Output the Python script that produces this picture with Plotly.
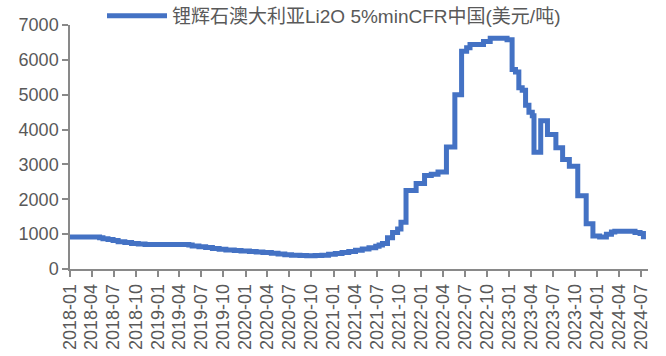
import plotly.graph_objects as go

# Weekly change points of the spodumene price series (USD/t)
dates = [
    "2018-01-01", "2018-05-04", "2018-05-18", "2018-06-08", "2018-06-29", "2018-07-20",
    "2018-08-17", "2018-09-14", "2018-10-12", "2018-11-09", "2019-01-11", "2019-05-10",
    "2019-05-24", "2019-06-21", "2019-07-19", "2019-08-16", "2019-09-13", "2019-10-11",
    "2019-11-15", "2019-12-13", "2020-01-17", "2020-02-14", "2020-03-13", "2020-04-17",
    "2020-05-15", "2020-06-12", "2020-07-10", "2020-08-14", "2020-09-11", "2020-10-16",
    "2020-11-13", "2020-12-11", "2021-01-08", "2021-02-05", "2021-03-05", "2021-04-02",
    "2021-04-30", "2021-05-28", "2021-06-25", "2021-07-09", "2021-07-23", "2021-08-13",
    "2021-09-03", "2021-09-24", "2021-10-08", "2021-10-29", "2021-12-10", "2022-01-14",
    "2022-02-11", "2022-03-11", "2022-04-15", "2022-05-20", "2022-06-17", "2022-07-08",
    "2022-07-22", "2022-09-16", "2022-10-14", "2022-12-23", "2023-01-13", "2023-01-27",
    "2023-02-10", "2023-02-24", "2023-03-10", "2023-03-24", "2023-04-07", "2023-04-14",
    "2023-05-12", "2023-06-09", "2023-07-14", "2023-08-11", "2023-09-08", "2023-10-13",
    "2023-11-17", "2023-12-15", "2024-01-12", "2024-02-09", "2024-03-01", "2024-03-15",
    "2024-06-07", "2024-06-28", "2024-07-12",
]
prices = [
    920, 900, 870, 845, 815, 785,
    760, 735, 715, 705, 700, 690,
    660, 640, 615, 590, 565, 545,
    530, 515, 500, 485, 470, 450,
    430, 410, 395, 385, 380, 385,
    395, 420, 445, 470, 500, 540,
    575, 610, 650, 690, 730, 900,
    1050, 1150, 1340, 2250, 2450, 2680,
    2720, 2780, 3500, 5000, 6250, 6350,
    6440, 6530, 6620, 6580, 5720, 5650,
    5200, 5130, 4700, 4500, 4400, 3350,
    4250, 3860, 3480, 3140, 2950, 2100,
    1300, 950, 920, 1000, 1060, 1080,
    1050, 1020, 850,
]
series_name = "锂辉石澳大利亚Li2O 5%minCFR中国(美元/吨)"
y_ticks = [0, 1000, 2000, 3000, 4000, 5000, 6000, 7000]

BLUE = "#4472C4"
GREY_TEXT = "#595959"
AXIS = "#898989"
FONT = "Liberation Sans, Noto Sans CJK SC, sans-serif"

fig = go.Figure(
    go.Scatter(
        x=dates, y=prices, name=series_name, mode="lines",
        line=dict(color=BLUE, width=5, shape="hv"),
        showlegend=True,
    )
)

fig.update_layout(
    width=666, height=356,
    margin=dict(l=70, r=18, t=25, b=87, autoexpand=False),
    paper_bgcolor="white", plot_bgcolor="white",
    font=dict(family=FONT, color=GREY_TEXT, size=18),
    showlegend=True,
    legend=dict(
        orientation="h", xref="container", x=102 / 666, xanchor="left",
        yref="container", y=1 - 16 / 356, yanchor="middle",
        font=dict(size=19, color=GREY_TEXT), itemwidth=60,
        bgcolor="rgba(0,0,0,0)",
    ),
)

fig.update_xaxes(
    type="date", range=["2018-01-01", "2024-07-31"], automargin=False,
    tick0="2018-01-01", dtick="M3", tickformat="%Y-%m", tickangle=-90,
    ticks="outside", ticklen=6, tickcolor=AXIS, tickwidth=1.5,
    showline=True, linecolor=AXIS, linewidth=1.5, showgrid=False, zeroline=False,
    tickfont=dict(size=18, color=GREY_TEXT),
)
fig.update_yaxes(
    range=[0, 7000], tickvals=y_ticks, automargin=False,
    ticks="outside", ticklen=6, tickcolor=AXIS, tickwidth=1.5,
    showline=True, linecolor=AXIS, linewidth=1.5, showgrid=False, zeroline=False,
    tickfont=dict(size=18, color=GREY_TEXT),
)

fig.write_html("out.html")
